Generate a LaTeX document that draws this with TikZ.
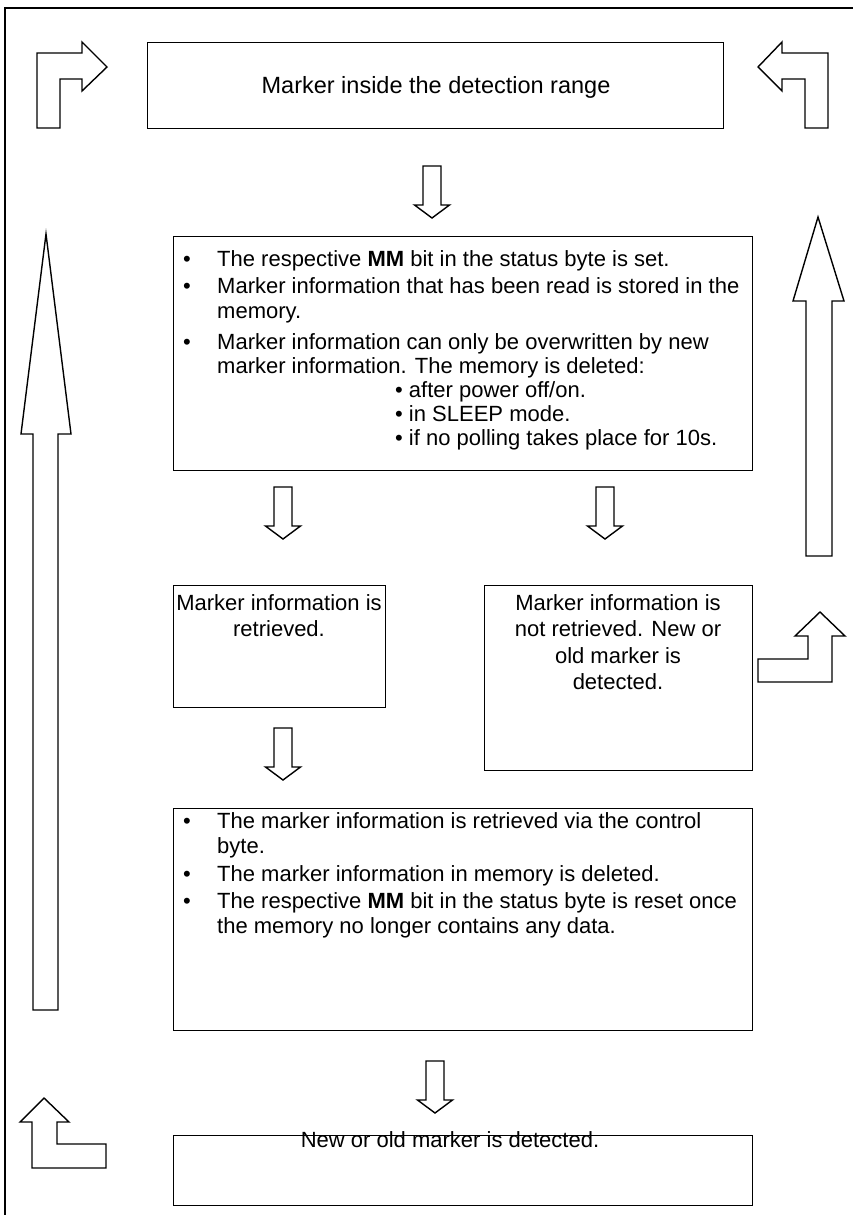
\documentclass[tikz,border=0pt]{standalone}
\usepackage{fontspec}
\setmainfont{Liberation Sans}
\begin{document}
\begin{tikzpicture}[x=1pt,y=-1pt,
  box/.style={draw, line width=1.4pt, inner sep=0pt, anchor=north west},
  blockarrow/.style={draw, line width=1.4pt, line join=miter},
  frame/.style={draw, line width=2.5pt},
  txt/.style={inner sep=0pt, font=\fontsize{22}{25}\selectfont},
  bigtxt/.style={inner sep=0pt, font=\fontsize{23.5}{27}\selectfont},
  dnarrow/.pic={\draw[blockarrow] (-9,0) -- (9,0) -- (9,39) -- (17.5,39) -- (0,52) -- (-17.5,39) -- (-9,39) -- cycle;}
]
\useasboundingbox (0,0) rectangle (853,1215);
% outer frame
\draw[frame] (5,1215) -- (5,8) -- (853,8);

% boxes
\node[box, minimum width=576pt, minimum height=86pt] (b1) at (147,42) {};
\node[box, minimum width=579pt, minimum height=234pt] (b2) at (173,236) {};
\node[box, minimum width=212pt, minimum height=122pt] (b3) at (173,585) {};
\node[box, minimum width=268pt, minimum height=185pt] (b4) at (484,585) {};
\node[box, minimum width=579pt, minimum height=222pt] (b5) at (173,808) {};
\node[box, minimum width=579pt, minimum height=70pt] (b6) at (173,1135) {};

% texts
\node[bigtxt, anchor=base] (t1) at (436,93) {Marker inside the detection range};

\node[txt, anchor=base west] (b2a) at (183,266) {•};
\node[txt, anchor=base west] (t2a) at (217,266) {The respective \textbf{MM} bit in the status byte is set.};
\node[txt, anchor=base west] (b2b) at (183,293) {•};
\node[txt, anchor=base west] (t2b) at (217,293) {Marker information that has been read is stored in the};
\node[txt, anchor=base west] (t2c) at (217,318) {memory.};
\node[txt, anchor=base west] (b2d) at (183,349) {•};
\node[txt, anchor=base west] (t2d) at (217,349) {Marker information can only be overwritten by new};
\node[txt, anchor=base west] (t2e) at (217,373) {marker information. The memory is deleted:};
\node[txt, anchor=base west] (t2f) at (395,397) {• after power off/on.};
\node[txt, anchor=base west] (t2g) at (395,421) {• in SLEEP mode.};
\node[txt, anchor=base west] (t2h) at (395,445) {• if no polling takes place for 10s.};

\node[txt, anchor=base] (t3a) at (279,610) {Marker information is};
\node[txt, anchor=base] (t3b) at (279,636) {retrieved.};

\node[txt, anchor=base] (t4a) at (618,610) {Marker information is};
\node[txt, anchor=base] (t4b) at (618,636) {not retrieved. New or};
\node[txt, anchor=base] (t4c) at (618,663) {old marker is};
\node[txt, anchor=base] (t4d) at (618,689) {detected.};

\node[txt, anchor=base west] (b5a) at (183,828) {•};
\node[txt, anchor=base west] (t5a) at (217,828) {The marker information is retrieved via the control};
\node[txt, anchor=base west] (t5b) at (217,853) {byte.};
\node[txt, anchor=base west] (b5c) at (183,881) {•};
\node[txt, anchor=base west] (t5c) at (217,881) {The marker information in memory is deleted.};
\node[txt, anchor=base west] (b5d) at (183,908) {•};
\node[txt, anchor=base west] (t5d) at (217,908) {The respective \textbf{MM} bit in the status byte is reset once};
\node[txt, anchor=base west] (t5e) at (217,933) {the memory no longer contains any data.};

\node[txt, anchor=base] (t6) at (450,1147) {New or old marker is detected.};

% down arrows
\pic at (432,166) {dnarrow};
\pic at (283,487) {dnarrow};
\pic at (605,487) {dnarrow};
\pic at (283,728) {dnarrow};
\pic at (435,1061) {dnarrow};

% corner arrows
\draw[blockarrow] (37,128) -- (37,53) -- (82,53) -- (82,42) -- (107,67) -- (82,91) -- (82,79) -- (60,79) -- (60,128) -- cycle;
\draw[blockarrow] (758,67) -- (782,42) -- (782,53) -- (828,53) -- (828,128) -- (805,128) -- (805,79) -- (782,79) -- (782,91) -- cycle;
\draw[blockarrow] (44,1098) -- (69,1122) -- (57,1122) -- (57,1144) -- (106,1144) -- (106,1168) -- (32,1168) -- (32,1122) -- (20,1122) -- cycle;
\draw[blockarrow] (820,612) -- (845,636) -- (832,636) -- (832,682) -- (758,682) -- (758,659) -- (808,659) -- (808,636) -- (795,636) -- cycle;

% long arrows
\draw[blockarrow] (46,234) -- (71,434) -- (58,434) -- (58,1010) -- (33,1010) -- (33,434) -- (21,434) -- cycle;
\draw[blockarrow] (818,217) -- (844,301) -- (832,301) -- (832,556) -- (806,556) -- (806,301) -- (793,301) -- cycle;
\end{tikzpicture}
\end{document}
